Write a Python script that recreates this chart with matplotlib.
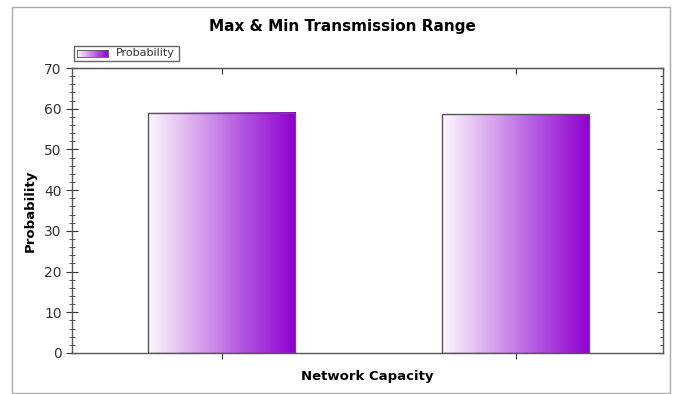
import numpy as np
import matplotlib.pyplot as plt
from matplotlib.patches import Rectangle
from matplotlib.colors import LinearSegmentedColormap
from matplotlib.ticker import MultipleLocator

# data
categories = ['Max', 'Min']
values = [59.0, 58.7]
series_name = 'Probability'

W, H = 674, 394
fig = plt.figure(figsize=(W / 100, H / 100), dpi=100)
ax = fig.add_axes([72 / W, 1 - 353 / H, 591 / W, 285 / H])

cmap = LinearSegmentedColormap.from_list('viol', ['#fdf8fe', '#d9a6ec', '#b04fe0', '#9000d0'])
grad = np.linspace(0, 1, 256).reshape(1, -1)

x = np.arange(len(categories))
width = 0.5
for xi, v in zip(x, values):
    ax.imshow(grad, cmap=cmap, aspect='auto', extent=[xi - width / 2, xi + width / 2, 0, v],
              interpolation='bicubic', zorder=2)
    ax.bar(xi, v, width=width, facecolor='none', edgecolor='#555555', linewidth=1.0, zorder=3)

ax.set_xlim(-0.51, 1.5)
ax.set_ylim(0, 70)
ax.set_xticks(x)
ax.set_xticklabels([])
ax.yaxis.set_major_locator(MultipleLocator(10))
ax.yaxis.set_minor_locator(MultipleLocator(2))
ax.tick_params(axis='y', which='major', direction='inout', length=9, width=0.8, color='#333333',
               labelsize=10, labelcolor='#333333', pad=3)
ax.tick_params(axis='y', which='minor', direction='inout', length=5, width=0.6, color='#333333')
ax.tick_params(axis='x', which='major', direction='inout', length=9, width=0.8, color='#333333')
for s in ax.spines.values():
    s.set_color('#555555')
    s.set_linewidth(1.0)

# right axis: inward ticks only
ry = ax.secondary_yaxis('right')
ry.yaxis.set_major_locator(MultipleLocator(10))
ry.yaxis.set_minor_locator(MultipleLocator(2))
ry.tick_params(axis='y', which='major', direction='in', length=4, width=0.8, color='#333333', labelright=False)
ry.tick_params(axis='y', which='minor', direction='in', length=2.5, width=0.6, color='#333333')
ry.spines['right'].set_color('#555555')

# top axis: inward ticks at bar centres
tx = ax.secondary_xaxis('top')
tx.set_xticks(x)
tx.tick_params(axis='x', direction='in', length=4, width=0.8, color='#333333', labeltop=False)
tx.spines['top'].set_color('#555555')

ax.set_ylabel('Probability', fontsize=9.5, fontweight='bold', labelpad=5)
ax.set_xlabel('Network Capacity', fontsize=9.5, fontweight='bold', labelpad=4)
fig.text(342 / W, 1 - 26 / H, 'Max & Min Transmission Range', ha='center', va='center',
         fontsize=11, fontweight='bold')

# outer frame
fig.patches.append(Rectangle((12 / W, 1 - 393 / H), 658 / W, 386 / H, transform=fig.transFigure,
                             facecolor='none', edgecolor='#aaaaaa', linewidth=1.0))

# legend box
fig.patches.append(Rectangle((74 / W, 1 - 61 / H), 105 / W, 15 / H, transform=fig.transFigure,
                             facecolor='white', edgecolor='#666666', linewidth=1.0))
lax = fig.add_axes([77 / W, 1 - 57 / H, 31 / W, 7 / H], zorder=5)
lax.imshow(grad, cmap=cmap, aspect='auto', interpolation='bicubic')
lax.set_xticks([])
lax.set_yticks([])
for s in lax.spines.values():
    s.set_color('#555555')
    s.set_linewidth(0.6)
fig.text(116 / W, 1 - 53 / H, series_name, ha='left', va='center', fontsize=8, color='#333333')

fig.savefig('out.png', dpi=100)
